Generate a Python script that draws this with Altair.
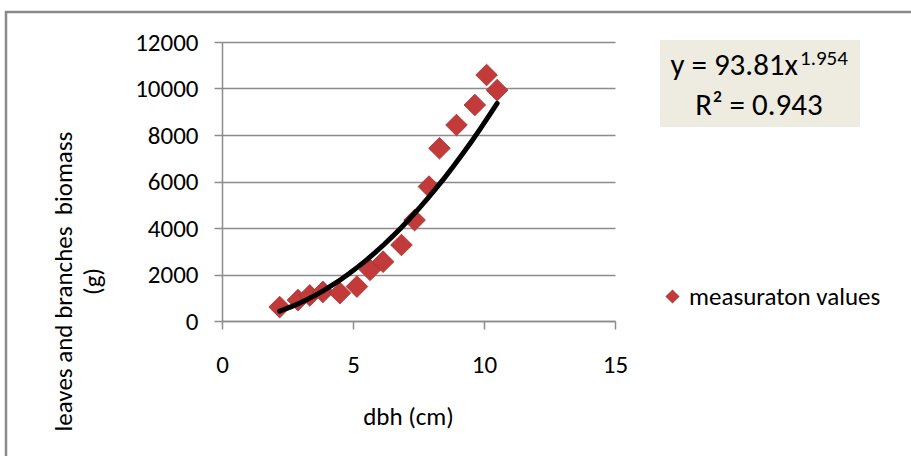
import altair as alt
import pandas as pd

# ---- data ----
dbh = [2.2, 2.9, 3.35, 3.85, 4.5, 5.15, 5.65, 6.15, 6.85, 7.35, 7.9, 8.3, 8.95, 9.65, 10.1, 10.5]
biomass = [600, 900, 1100, 1250, 1200, 1480, 2200, 2550, 3270, 4340, 5780, 7430, 8430, 9290, 10580, 9930]
series_name = "measuraton values"
x_ticks = [0, 5, 10, 15]
y_ticks = [0, 2000, 4000, 6000, 8000, 10000, 12000]
eq_main = "y = 93.81x"
eq_exp = "1.954"
r2_text = "R² = 0.943"
x_title = "dbh (cm)"
y_title = ["leaves and branches\u00a0 biomass", "(g)"]

FONT = "Carlito, Calibri, Lato, sans-serif"
GRID = "#8c8c8c"
RED = "#c23b3a"
FS = 25

df = pd.DataFrame({"dbh": dbh, "biomass": biomass, "series": [series_name] * len(dbh)})
ann = pd.DataFrame({"main": [eq_main], "exp": [eq_exp], "r2": [r2_text]})

W, H = 393, 279
xscale = alt.Scale(domain=[0, 15], nice=False)
yscale = alt.Scale(domain=[0, 12000], nice=False)

base = alt.Chart(df)

points = base.mark_point(shape="diamond", filled=True, size=470, opacity=1,
                         stroke="#a52f2f", strokeWidth=0.8).encode(
    x=alt.X("dbh:Q", scale=xscale,
            axis=alt.Axis(values=x_ticks, grid=False, title=x_title, tickSize=8,
                          labelPadding=23, labelFlush=False, titleX=186, titleY=95,
                          titleBaseline="middle", titleAlign="center")),
    y=alt.Y("biomass:Q", scale=yscale,
            axis=alt.Axis(values=y_ticks, grid=True, title=y_title, tickSize=8, format="d",
                          labelPadding=16, titleAngle=270, titleX=-159, titleY=239,
                          titleBaseline="middle", titleAlign="center", titleLineHeight=29)),
    color=alt.Color("series:N", scale=alt.Scale(range=[RED]),
                    legend=alt.Legend(title=None, orient="none", legendX=438, legendY=242,
                                      symbolType="diamond", symbolSize=200, labelOffset=4,
                                      padding=0, symbolStrokeWidth=0, labelLimit=0)),
)

curve = base.transform_regression("dbh", "biomass", method="pow").mark_line(
    color="black", strokeWidth=5, strokeCap="round").encode(
    x=alt.X("dbh:Q", scale=xscale),
    y=alt.Y("biomass:Q", scale=yscale),
)

annb = alt.Chart(ann)
box = annb.mark_rect(fill="#eeece1").encode(
    x=alt.value(438), x2=alt.value(638), y=alt.value(-2), y2=alt.value(85))
t_main = annb.mark_text(align="right", baseline="alphabetic", fontSize=31, font=FONT,
                        color="black").encode(text="main:N", x=alt.value(576), y=alt.value(33))
t_exp = annb.mark_text(align="left", baseline="alphabetic", fontSize=21, font=FONT,
                       color="black").encode(text="exp:N", x=alt.value(578), y=alt.value(23))
t_r2 = annb.mark_text(align="center", baseline="alphabetic", fontSize=31, font=FONT,
                      color="black").encode(text="r2:N", x=alt.value(537), y=alt.value(73))

frame = annb.mark_rect(fill=None, stroke="#8a8a8a", strokeWidth=2.5).encode(
    x=alt.value(-216), x2=alt.value(700), y=alt.value(-30), y2=alt.value(430))

chart = alt.layer(frame, points, curve, box, t_main, t_exp, t_r2).properties(
    width=W, height=H,
    autosize=alt.AutoSizeParams(type="none"),
    padding={"left": 222, "top": 42, "right": 296, "bottom": 135},
).configure(font=FONT, background="white").configure_view(stroke=None).configure_axis(
    domainColor=GRID, domainWidth=1.5, tickColor=GRID, tickWidth=1.5,
    gridColor=GRID, gridWidth=1.5, labelFont=FONT, labelFontSize=FS, labelColor="black",
    titleFont=FONT, titleFontSize=FS, titleColor="black", titleFontWeight="normal",
).configure_legend(labelFont=FONT, labelFontSize=FS, labelColor="black")

chart.save("out.html", embed_options={"renderer": "svg", "actions": False})
